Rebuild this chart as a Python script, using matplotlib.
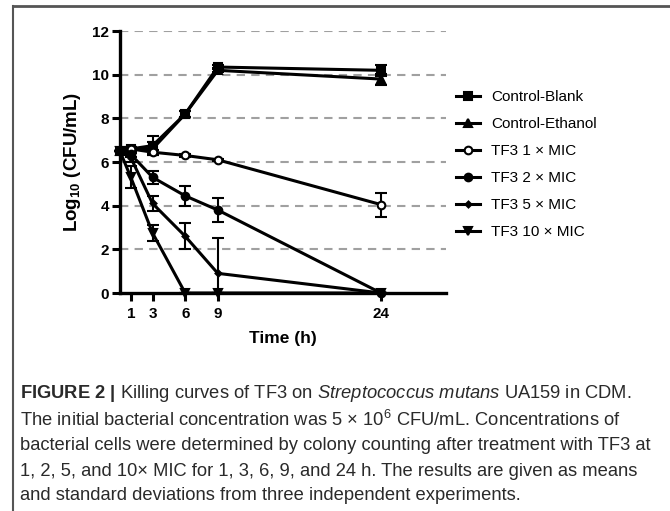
import matplotlib
matplotlib.use("Agg")
import matplotlib.pyplot as plt
from matplotlib.lines import Line2D
import numpy as np

plt.rcParams['font.family'] = ['Liberation Sans', 'DejaVu Sans']
plt.rcParams['mathtext.fontset'] = 'custom'
plt.rcParams['mathtext.rm'] = 'Liberation Sans'
plt.rcParams['mathtext.it'] = 'Liberation Sans:italic'
plt.rcParams['mathtext.bf'] = 'Liberation Sans:bold'

# time points (h)
time = [0, 1, 3, 6, 9, 24]

labels = ['Control-Blank', 'Control-Ethanol', 'TF3 1 × MIC', 'TF3 2 × MIC',
          'TF3 5 × MIC', 'TF3 10 × MIC']

blank = [6.5, 6.6, 6.75, 8.2, 10.35, 10.2]
blank_sd = [0, 0.1, 0.45, 0.15, 0.1, 0.25]
ethanol = [6.5, 6.6, 6.6, 8.2, 10.2, 9.8]
ethanol_sd = [0, 0.1, 0.3, 0.15, 0.1, 0.25]
mic1 = [6.5, 6.6, 6.45, 6.3, 6.1, 4.05]
mic1_sd = [0, 0.05, 0.1, 0.05, 0.05, 0.55]
mic2 = [6.5, 6.35, 5.3, 4.45, 3.8, 0]
mic2_sd = [0, 0.1, 0.3, 0.45, 0.53, 0]
mic5 = [6.5, 6.2, 4.1, 2.6, 0.9, 0]
mic5_sd = [0, 0.2, 0.35, 0.6, 1.6, 0]
mic10 = [6.5, 5.3, 2.75, 0, 0, 0]
mic10_sd = [0, 0.5, 0.35, 0, 0, 0]

series = [blank, ethanol, mic1, mic2, mic5, mic10]
sds = [blank_sd, ethanol_sd, mic1_sd, mic2_sd, mic5_sd, mic10_sd]
markers = ['s', '^', 'o', 'o', 'D', 'v']
msizes = [5.5, 5.5, 5.5, 5.5, 3, 5.5]
faces = ['black', 'black', 'white', 'black', 'black', 'black']

fig = plt.figure(figsize=(6.7, 5.11), dpi=100)
ax = fig.add_axes([0.179, 0.4266, 0.487, 0.5127])

for y in range(2, 13, 2):
    ax.axhline(y, color='#a0a0a0', lw=1.5, ls=(0, (4, 3)), zorder=0)

handles = []
for vals, sd, m, ms, fc, lab in zip(series, sds, markers, msizes, faces, labels):
    vals = np.array(vals)
    sd = np.array(sd)
    lower = np.minimum(sd, vals)
    ax.errorbar(time, vals, yerr=[lower, sd], fmt='none', ecolor='black',
                elinewidth=1.5, capsize=4, capthick=1.5, clip_on=False, zorder=3)
    h, = ax.plot(time, vals, color='black', lw=2.2, marker=m, ms=ms,
                 mfc=fc, mec='black', mew=1.5, clip_on=False, zorder=4, label=lab)
    handles.append(h)

ax.set_xlim(0, 30)
ax.set_ylim(0, 12)
ax.set_xticks([1, 3, 6, 9, 24])
ax.set_yticks(range(0, 13, 2))
for s in ['top', 'right']:
    ax.spines[s].set_visible(False)
for s in ['left', 'bottom']:
    ax.spines[s].set_linewidth(2.4)
ax.tick_params(width=2.2, length=6, labelsize=11, pad=2)
ax.tick_params(axis='x', pad=4)
for t in ax.get_xticklabels() + ax.get_yticklabels():
    t.set_fontweight('bold')
ax.set_xlabel('Time (h)', fontsize=12.5, fontweight='bold', labelpad=7)
ax.set_ylabel(r'Log$_{\mathbf{10}}$ (CFU/mL)', fontsize=13.5, fontweight='bold', labelpad=6)

fig.legend(handles=handles, loc='upper left', bbox_to_anchor=(0.66, 0.85),
           frameon=False, fontsize=11, handlelength=1.6, handletextpad=0.7,
           labelspacing=0.85)

# frame lines around the figure panel
fig.add_artist(Line2D([0.02, 1.0], [0.988, 0.988], color='#555555', lw=2))
fig.add_artist(Line2D([0.02, 0.02], [0.0, 0.988], color='#555555', lw=1.5))

caption = [
    r'$\mathbf{FIGURE\ 2\ |}$ Killing curves of TF3 on $\mathit{Streptococcus\ mutans}$ UA159 in CDM.',
    r'The initial bacterial concentration was 5 $\times$ 10$^{6}$ CFU/mL. Concentrations of',
    'bacterial cells were determined by colony counting after treatment with TF3 at',
    '1, 2, 5, and 10× MIC for 1, 3, 6, 9, and 24 h. The results are given as means',
    'and standard deviations from three independent experiments.',
]
ys = [393, 420, 446, 471, 496]
for line, yp in zip(caption, ys):
    fig.text(20 / 670, 1 - yp / 511, line, fontsize=13.2, va='center', ha='left',
             color='#2a2a2a')

fig.savefig('out.png', dpi=100)
